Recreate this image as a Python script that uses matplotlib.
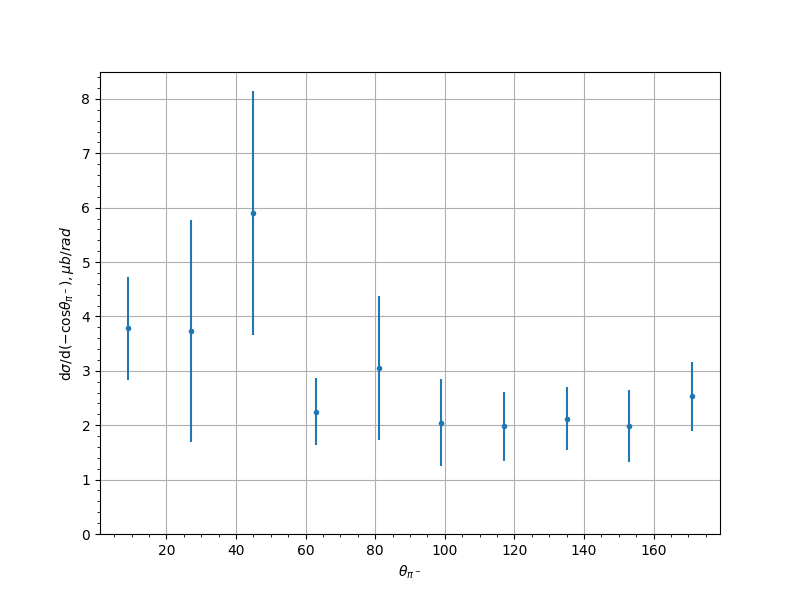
import matplotlib
matplotlib.use("Agg")
import matplotlib.pyplot as plt
import numpy as np

theta = [9, 27, 45, 63, 81, 99, 117, 135, 153, 171]
xsec = [3.78, 3.73, 5.90, 2.25, 3.05, 2.05, 1.98, 2.12, 1.98, 2.53]
err = [0.94, 2.04, 2.25, 0.62, 1.32, 0.80, 0.64, 0.58, 0.66, 0.63]

fig, ax = plt.subplots(figsize=(8, 6), dpi=100)
ax.errorbar(theta, xsec, yerr=err, fmt='.', color='#1f77b4')
ax.set_ylim(bottom=0)
ax.minorticks_on()
ax.grid(True, which='major')
ax.set_xlabel(r'$\theta_{\pi^-}$')
ax.set_ylabel(r'd$\sigma$/d$(-\mathrm{cos}\theta_{\pi^-}), \mu b/rad$')
fig.savefig('out.png')
